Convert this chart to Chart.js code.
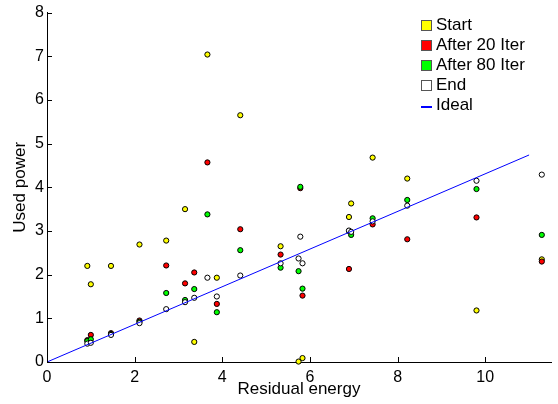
<html>
<head>
    <title>Used power vs residual energy</title>
    <script src="https://cdn.jsdelivr.net/npm/chart.js"></script>
    <style>
        body { margin: 0; background: #fff; }
    </style>
</head>
<body>
<canvas id="graph" width="558" height="404"></canvas>
<script>
    // node positions (residual energy) and used power at each stage
    const nodeX   = [0.92, 1.0, 1.46, 2.11, 2.72, 3.15, 3.36, 3.66, 3.875, 4.41, 5.33, 5.74, 5.78, 5.83, 6.89, 6.94, 7.43, 8.22, 9.80, 11.29];
    const startY  = [2.20, 1.78, 2.20, 2.69, 2.78, 3.50, 0.46, 7.04, 1.93, 5.65, 2.65, 0.01, null, 0.09, 3.32, 3.63, 4.68, 4.20, 1.18, 2.35];
    const iter20Y = [0.50, 0.62, 0.66, 0.95, 2.21, 1.80, 2.05, 4.57, 1.33, 3.04, 2.46, null, 3.98, 1.52, 2.13, null, 3.15, 2.81, 3.31, 2.30];
    const iter80Y = [0.48, 0.52, 0.64, 0.92, 1.58, 1.42, 1.67, 3.38, 1.14, 2.56, 2.16, 2.08, 4.01, 1.68, 3.00, 2.91, 3.29, 3.71, 3.96, 2.91];
    const endY    = [0.42, 0.44, 0.62, 0.89, 1.21, 1.37, 1.47, 1.93, 1.50, 1.98, 2.26, 2.37, 2.87, 2.26, 3.01, 2.98, 3.22, 3.58, 4.15, 4.29];
    const idealX  = [0, 11];
    const idealY  = [0, 4.74];
    const xTicks  = [0, 2, 4, 6, 8, 10];
    const yTicks  = [0, 1, 2, 3, 4, 5, 6, 7, 8];

    const FONT = '"Liberation Sans", Arial, sans-serif';

    function pts(xs, ys) {
        return xs.map((x, i) => ({x: x, y: ys[i]}));
    }

    function markers(label, values, fill, order) {
        return {
            label: label,
            type: 'scatter',
            data: pts(nodeX, values),
            backgroundColor: fill,
            borderColor: '#000',
            borderWidth: 1,
            pointRadius: 2.6,
            pointHoverRadius: 2.6,
            order: order,
            clip: 6
        };
    }

    // MATLAB style ticks pointing into the plot
    const innerTicks = {
        id: 'innerTicks',
        afterDraw(chart) {
            const ctx = chart.ctx;
            const xs = chart.scales.x, ys = chart.scales.y;
            const a = chart.chartArea;
            ctx.save();
            ctx.strokeStyle = '#000';
            ctx.lineWidth = 1;
            ctx.beginPath();
            xTicks.forEach(v => {
                const px = Math.round(xs.getPixelForValue(v)) + 0.5;
                ctx.moveTo(px, a.bottom);
                ctx.lineTo(px, a.bottom - 5);
            });
            yTicks.forEach(v => {
                const py = Math.round(ys.getPixelForValue(v)) + 0.5;
                ctx.moveTo(a.left, py);
                ctx.lineTo(a.left + 5, py);
            });
            ctx.stroke();
            ctx.restore();
        }
    };

    // legend box in the upper right, like the original figure
    const cornerLegend = {
        id: 'cornerLegend',
        afterDraw(chart) {
            const ctx = chart.ctx;
            const left = 421, top = 20, step = 20;
            ctx.save();
            ctx.font = '17px ' + FONT;
            ctx.textBaseline = 'middle';
            ctx.fillStyle = '#000';
            chart.data.datasets.forEach((ds, i) => {
                const y = top + i * step;
                if (ds.showLine) {
                    ctx.strokeStyle = ds.borderColor;
                    ctx.lineWidth = 2;
                    ctx.beginPath();
                    ctx.moveTo(left, y + 7);
                    ctx.lineTo(left + 11, y + 7);
                    ctx.stroke();
                } else {
                    ctx.fillStyle = ds.backgroundColor;
                    ctx.fillRect(left, y, 10, 10);
                    ctx.strokeStyle = '#555';
                    ctx.lineWidth = 1;
                    ctx.strokeRect(left + 0.5, y + 0.5, 10, 10);
                }
                ctx.fillStyle = '#000';
                ctx.fillText(ds.label, left + 15, y + 5.5);
            });
            ctx.restore();
        }
    };

    const config = {
        type: 'scatter',
        data: {
            datasets: [
                markers('Start', startY, '#ffff00', 5),
                markers('After 20 Iter', iter20Y, '#ff0000', 4),
                markers('After 80 Iter', iter80Y, '#00ff00', 3),
                markers('End', endY, '#ffffff', 2),
                {
                    label: 'Ideal',
                    type: 'scatter',
                    data: pts(idealX, idealY),
                    showLine: true,
                    borderColor: '#0000ff',
                    backgroundColor: '#0000ff',
                    borderWidth: 1,
                    pointRadius: 0,
                    order: 1
                }
            ]
        },
        options: {
            responsive: false,
            animation: false,
            events: [],
            layout: {padding: {left: 0, right: 7, top: 11, bottom: 0}},
            plugins: {
                legend: {display: false},
                tooltip: {enabled: false}
            },
            scales: {
                x: {
                    type: 'linear',
                    min: 0,
                    max: 11.5,
                    afterFit: s => { s.height = 42; },
                    afterBuildTicks: s => { s.ticks = xTicks.map(v => ({value: v})); },
                    grid: {display: false, drawTicks: false},
                    border: {display: true, color: '#000', width: 1},
                    ticks: {
                        color: '#000',
                        padding: 6,
                        maxRotation: 0,
                        font: {family: FONT, size: 16}
                    },
                    title: {
                        display: true,
                        text: 'Residual energy',
                        color: '#000',
                        padding: {top: 0, bottom: 4},
                        font: {family: FONT, size: 17}
                    }
                },
                y: {
                    type: 'linear',
                    min: 0,
                    max: 8,
                    afterFit: s => { s.width = 47; },
                    afterBuildTicks: s => { s.ticks = yTicks.map(v => ({value: v})); },
                    grid: {display: false, drawTicks: false},
                    border: {display: true, color: '#000', width: 1},
                    ticks: {
                        color: '#000',
                        padding: 3,
                        font: {family: FONT, size: 16}
                    },
                    title: {
                        display: true,
                        text: 'Used power',
                        color: '#000',
                        padding: {top: 10, bottom: 0},
                        font: {family: FONT, size: 17}
                    }
                }
            }
        },
        plugins: [innerTicks, cornerLegend]
    };

    new Chart(document.getElementById('graph'), config);
</script>
</body>
</html>
